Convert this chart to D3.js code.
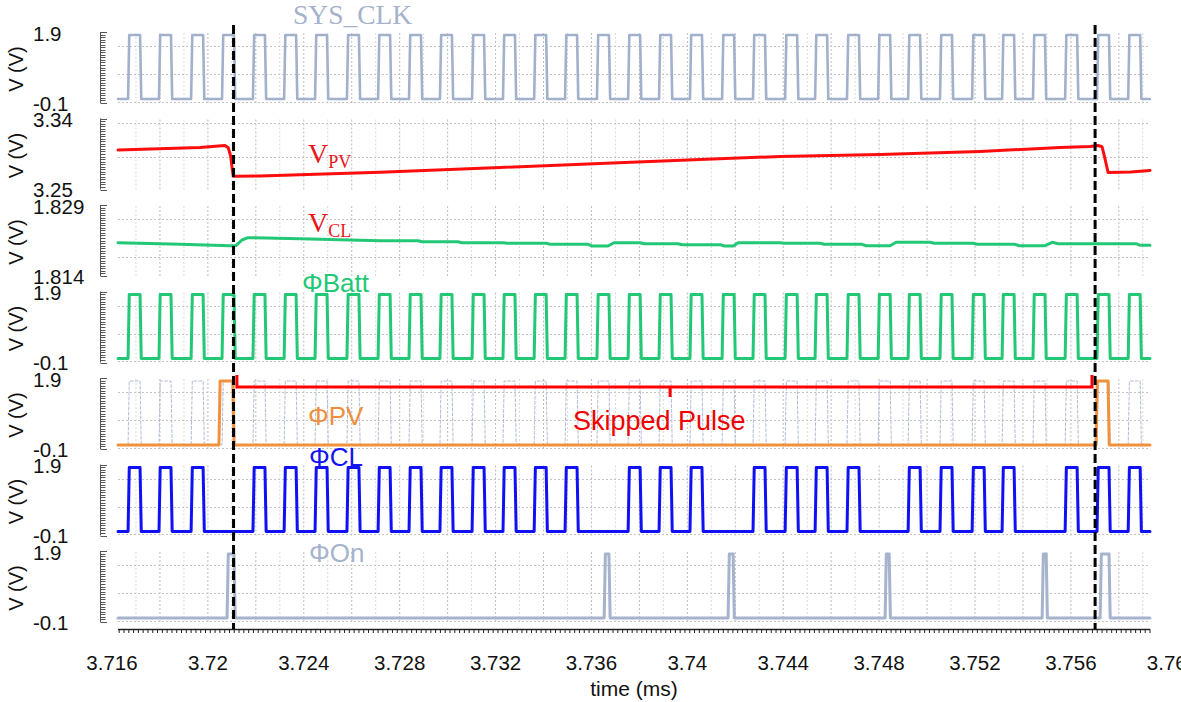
<!DOCTYPE html>
<html>
<head>
<meta charset="utf-8">
<script src="https://cdn.jsdelivr.net/npm/d3@7"></script>
<style>
  html, body { margin: 0; padding: 0; background: #fff; }
  svg { display: block; }
</style>
</head>
<body>
<svg id="chart" width="1181" height="702"></svg>
<script>
// ---- data (time in ms, voltage in V) ----
const clkRise = [3.71667, 3.71796, 3.71930, 3.72059, 3.72188, 3.72318, 3.72447, 3.72580, 3.72710,
  3.72839, 3.72968, 3.73102, 3.73231, 3.73361, 3.73490, 3.73623, 3.73753, 3.73882, 3.74011, 3.74145,
  3.74274, 3.74408, 3.74533, 3.74666, 3.74796, 3.74921, 3.75054, 3.75188, 3.75313, 3.75442, 3.75576,
  3.75709, 3.75839];
const clkHigh = 0.0005;          // high time of every clock-like pulse
const battRise = [3.71667, 3.71796, 3.71930, 3.72059, 3.72188, 3.72318, 3.72447, 3.72580, 3.72710,
  3.72839, 3.72968, 3.73102, 3.73231, 3.73361, 3.73490, 3.73623, 3.73753, 3.73882, 3.74011, 3.74145,
  3.74274, 3.74408, 3.74533, 3.74666, 3.74796, 3.74921, 3.75054, 3.75188, 3.75313, 3.75442, 3.75576,
  3.75709, 3.75839];
const clRise = [3.71667, 3.71796, 3.71930, 3.72188, 3.72318, 3.72447, 3.72580, 3.72710, 3.72839,
  3.72968, 3.73102, 3.73231, 3.73361, 3.73490, 3.73753, 3.73882, 3.74011, 3.74274, 3.74408, 3.74533,
  3.74666, 3.74921, 3.75054, 3.75188, 3.75313, 3.75576, 3.75709, 3.75839];
const pvPulses = [[3.72046, 3.72104], [3.75705, 3.75755]];
const onPulses = [[3.72080, 3.72109], [3.73653, 3.73673], [3.74170, 3.74191],
  [3.74825, 3.74842], [3.75480, 3.75497], [3.75722, 3.75759]];

const vpvTime = [3.71625, 3.71967, 3.72071, 3.72085, 3.72095, 3.72102, 3.72106, 3.72121, 3.72217,
  3.72718, 3.73219, 3.73636, 3.74053, 3.74387, 3.74804, 3.75221, 3.75555, 3.75680, 3.75713,
  3.75730, 3.75743, 3.75755, 3.75850, 3.75930];
const vpvVolt = [3.2999, 3.3034, 3.3062, 3.3030, 3.2912, 3.2725, 3.2631, 3.2631, 3.2634,
  3.2687, 3.2753, 3.2809, 3.2866, 3.2908, 3.2936, 3.2978, 3.3034, 3.3048, 3.3062,
  3.3045, 3.2866, 3.2683, 3.2690, 3.2711];

const vclTime = [3.71625, 3.71884, 3.72092, 3.72117, 3.72142, 3.72167, 3.72384, 3.72718, 3.72877,
  3.72893, 3.73043, 3.73060, 3.73231, 3.73248, 3.73411, 3.73428, 3.73586, 3.73603, 3.73669, 3.73694,
  3.73803, 3.73820, 3.73961, 3.73978, 3.74137, 3.74154, 3.74191, 3.74212, 3.74387, 3.74404, 3.74554,
  3.74571, 3.74729, 3.74746, 3.74846, 3.74871, 3.75013, 3.75030, 3.75192, 3.75209, 3.75367, 3.75384,
  3.75492, 3.75522, 3.75547, 3.75872, 3.75889, 3.75930];
const vclVolt = [1.82087, 1.82049, 1.82016, 1.82020, 1.82150, 1.82204, 1.82180, 1.82134, 1.82134,
  1.82110, 1.82110, 1.82087, 1.82087, 1.82073, 1.82073, 1.82049, 1.82049, 1.82009, 1.82009, 1.82087,
  1.82087, 1.82063, 1.82063, 1.82040, 1.82040, 1.82009, 1.82009, 1.82087, 1.82087, 1.82073, 1.82073,
  1.82049, 1.82049, 1.82016, 1.82016, 1.82096, 1.82096, 1.82073, 1.82073, 1.82049, 1.82049, 1.82016,
  1.82016, 1.82096, 1.82063, 1.82063, 1.82026, 1.82026];

const markerTimes = [3.72107, 3.75701];            // dashed cursors
const skipSpan = [3.72121, 3.75688];               // "Skipped Pulse" bracket ends
const skipNotch = 3.73928;                         // bracket centre notch
const skipLevels = [2.09, 1.71, 1.40];             // cap, bar, notch (V on the ΦPV axis)

const xTickLabels = [3.716, 3.72, 3.724, 3.728, 3.732, 3.736, 3.74, 3.744, 3.748, 3.752, 3.756, 3.76];
const digitalGrid = [1.55, 0.68, -0.19];
const vpvGrid = [3.3372, 3.2894];
const vclGrid = [1.8264, 1.8175];

// ---- layout ----
const SANS = "'Liberation Sans', Arial, Helvetica, sans-serif";
const SERIF = "'Liberation Serif', 'Times New Roman', serif";
const svg = d3.select('#chart');
const x = d3.scaleLinear().domain([3.71625, 3.7593]).range([118, 1150]);
const panelH = 64;

const panels = [
  { domain: [-0.1, 1.9], top: '1.9', bottom: '-0.1', grid: digitalGrid },
  { domain: [3.25, 3.34], top: '3.34', bottom: '3.25', grid: vpvGrid },
  { domain: [1.814, 1.829], top: '1.829', bottom: '1.814', grid: vclGrid },
  { domain: [-0.1, 1.9], top: '1.9', bottom: '-0.1', grid: digitalGrid },
  { domain: [-0.1, 1.9], top: '1.9', bottom: '-0.1', grid: digitalGrid },
  { domain: [-0.1, 1.9], top: '1.9', bottom: '-0.1', grid: digitalGrid },
  { domain: [-0.1, 1.9], top: '1.9', bottom: '-0.1', grid: digitalGrid }
];
panels.forEach((p, i) => {
  p.y0 = 35 + i * 86.5;
  p.y = d3.scaleLinear().domain(p.domain).range([p.y0 + panelH, p.y0]);
});

const gGrid = svg.append('g');
const gAxis = svg.append('g');
const gSig = svg.append('g');
const gText = svg.append('g');
const gTop = svg.append('g');

// grid: vertical every 0.001 ms, darker on 0.002 ms
const gridTimes = d3.range(3717, 3760).map(k => k / 1000);
panels.forEach(p => {
  gGrid.selectAll(null).data(gridTimes).enter().append('line')
    .attr('x1', d => x(d)).attr('x2', d => x(d))
    .attr('y1', p.y0 - 2).attr('y2', p.y0 + panelH + 4)
    .attr('stroke', d => (Math.round(d * 1000) % 2 === 0) ? '#bcbcbc' : '#dadada')
    .attr('stroke-width', 1).attr('stroke-dasharray', '2,2');
  gGrid.selectAll(null).data(p.grid).enter().append('line')
    .attr('x1', x.range()[0]).attr('x2', x.range()[1])
    .attr('y1', d => Math.round(p.y(d)) + 0.5).attr('y2', d => Math.round(p.y(d)) + 0.5)
    .attr('stroke', '#c4c4c4').attr('stroke-width', 1).attr('stroke-dasharray', '2,2');

  // tick comb on the left of each panel
  const combTop = p.y0 - 3, combBot = p.y0 + panelH + 4;
  gAxis.append('line').attr('x1', 100.5).attr('x2', 100.5).attr('y1', combTop).attr('y2', combBot)
    .attr('stroke', '#555').attr('stroke-width', 1);
  const nComb = 28;
  const combScale = d3.scaleLinear().domain([0, nComb]).range([combTop, combBot]);
  gAxis.selectAll(null).data(d3.range(nComb + 1)).enter().append('line')
    .attr('x1', 100.5).attr('x2', d => (d === 0 || d === nComb) ? 107 : 105.5)
    .attr('y1', d => Math.round(combScale(d)) + 0.5).attr('y2', d => Math.round(combScale(d)) + 0.5)
    .attr('stroke', '#555').attr('stroke-width', 1);

  // end labels and unit label
  gText.append('text').attr('x', 33).attr('y', p.y0 - 2).attr('dominant-baseline', 'central')
    .attr('font-family', SANS).attr('font-size', 20.5).attr('fill', '#111').text(p.top);
  gText.append('text').attr('x', 33).attr('y', p.y0 + 68).attr('dominant-baseline', 'central')
    .attr('font-family', SANS).attr('font-size', 20.5).attr('fill', '#111').text(p.bottom);
  gText.append('text').attr('transform', `translate(16,${p.y0 + 34}) rotate(-90)`)
    .attr('text-anchor', 'middle').attr('dominant-baseline', 'central')
    .attr('font-family', SANS).attr('font-size', 20).attr('fill', '#111').text('V (V)');
});

// ---- x axis ----
const axisY = 629;
gAxis.append('line').attr('x1', 118).attr('x2', 1150).attr('y1', axisY + 0.5).attr('y2', axisY + 0.5)
  .attr('stroke', '#222').attr('stroke-width', 1.5);
const minorTicks = d3.range(37163, 37594, 2).map(k => k / 10000);
gAxis.selectAll(null).data(minorTicks).enter().append('line')
  .attr('x1', d => x(d)).attr('x2', d => x(d))
  .attr('y1', axisY).attr('y2', d => {
    const m = Math.round(d * 10000);
    if (m % 20 === 0) return axisY + 13;
    if (m % 10 === 0) return axisY + 7;
    return axisY + 4;
  })
  .attr('stroke', '#222').attr('stroke-width', 1);
gText.selectAll(null).data(xTickLabels).enter().append('text')
  .attr('x', d => x(d)).attr('y', 662).attr('text-anchor', 'middle').attr('dominant-baseline', 'central')
  .attr('font-family', SANS).attr('font-size', 20.5).attr('fill', '#111')
  .text(d => String(+d.toFixed(3)));
gText.append('text').attr('x', 634).attr('y', 688).attr('text-anchor', 'middle')
  .attr('dominant-baseline', 'central').attr('font-family', SANS).attr('font-size', 21)
  .attr('fill', '#111').text('time (ms)');

// ---- waveforms ----
const edge = 0.00005;
function pulseTrain(pulses, lo, hi) {
  const pts = [[x.domain()[0], lo]];
  pulses.forEach(([r, f]) => { pts.push([r, lo], [r + edge, hi], [f, hi], [f + edge, lo]); });
  pts.push([x.domain()[1], lo]);
  return pts;
}
function draw(panel, pts, color, width, dash) {
  const line = d3.line().x(d => x(d[0])).y(d => panel.y(d[1]));
  const path = gSig.append('path').attr('d', line(pts)).attr('fill', 'none')
    .attr('stroke', color).attr('stroke-width', width)
    .attr('stroke-linejoin', 'round').attr('stroke-linecap', 'round');
  if (dash) path.attr('stroke-dasharray', dash);
  return path;
}
const asPulses = rises => rises.map(r => [r, r + clkHigh]);

draw(panels[0], pulseTrain(asPulses(clkRise), -0.1, 1.9), '#a2b1cb', 2.6);
draw(panels[1], vpvTime.map((t, i) => [t, vpvVolt[i]]), '#ff0d0d', 3);
draw(panels[2], vclTime.map((t, i) => [t, vclVolt[i]]), '#22c875', 3);
draw(panels[3], pulseTrain(asPulses(battRise), -0.1, 1.9), '#22c875', 3);
draw(panels[4], pulseTrain(asPulses(clkRise), -0.1, 1.9), '#b3bcd6', 1, '3,2');
draw(panels[4], pulseTrain(pvPulses, -0.1, 1.9), '#f0913e', 3);
draw(panels[5], pulseTrain(asPulses(clRise), -0.1, 1.9), '#1010f5', 3);
draw(panels[6], pulseTrain(onPulses, -0.1, 1.9), '#a5b3cc', 3);

// "Skipped Pulse" bracket on the ΦPV panel
const pPV = panels[4];
const bracket = [
  [skipSpan[0], skipLevels[0]], [skipSpan[0], skipLevels[1]],
  [skipNotch, skipLevels[1]], [skipNotch, skipLevels[2]], [skipNotch, skipLevels[1]],
  [skipSpan[1], skipLevels[1]], [skipSpan[1], skipLevels[0]]
];
gSig.append('path')
  .attr('d', d3.line().x(d => x(d[0])).y(d => pPV.y(d[1]))(bracket))
  .attr('fill', 'none').attr('stroke', '#ff0000').attr('stroke-width', 3)
  .attr('stroke-linejoin', 'miter');
gText.append('text').attr('x', 573).attr('y', 430).attr('font-family', SANS).attr('font-size', 27)
  .attr('fill', '#f00000').text('Skipped Pulse');

// signal names
gText.append('text').attr('x', 293).attr('y', 24).attr('font-family', SERIF).attr('font-size', 27.5)
  .attr('fill', '#a5b2cb').text('SYS_CLK');
const vpvLabel = gText.append('text').attr('x', 308).attr('y', 163).attr('font-family', SERIF)
  .attr('font-size', 28).attr('fill', '#e8161b');
vpvLabel.append('tspan').text('V');
vpvLabel.append('tspan').attr('font-size', 18).attr('dy', 5).text('PV');
const vclLabel = gText.append('text').attr('x', 308).attr('y', 232).attr('font-family', SERIF)
  .attr('font-size', 28).attr('fill', '#e8161b');
vclLabel.append('tspan').text('V');
vclLabel.append('tspan').attr('font-size', 18).attr('dy', 5).text('CL');
gText.append('text').attr('x', 302).attr('y', 292).attr('font-family', SANS).attr('font-size', 26)
  .attr('fill', '#22c875').text('ΦBatt');
gText.append('text').attr('x', 308).attr('y', 425).attr('font-family', SANS).attr('font-size', 26)
  .attr('fill', '#ee8f3e').text('ΦPV');
gText.append('text').attr('x', 309).attr('y', 466).attr('font-family', SANS).attr('font-size', 26)
  .attr('fill', '#1414f0').text('ΦCL');
gText.append('text').attr('x', 309).attr('y', 562).attr('font-family', SANS).attr('font-size', 26)
  .attr('fill', '#a5b3cc').text('ΦOn');

// dashed cursors over everything
gTop.selectAll(null).data(markerTimes).enter().append('line')
  .attr('x1', d => x(d)).attr('x2', d => x(d)).attr('y1', 25).attr('y2', 629)
  .attr('stroke', '#000').attr('stroke-width', 3).attr('stroke-dasharray', '9,4');
</script>
</body>
</html>
